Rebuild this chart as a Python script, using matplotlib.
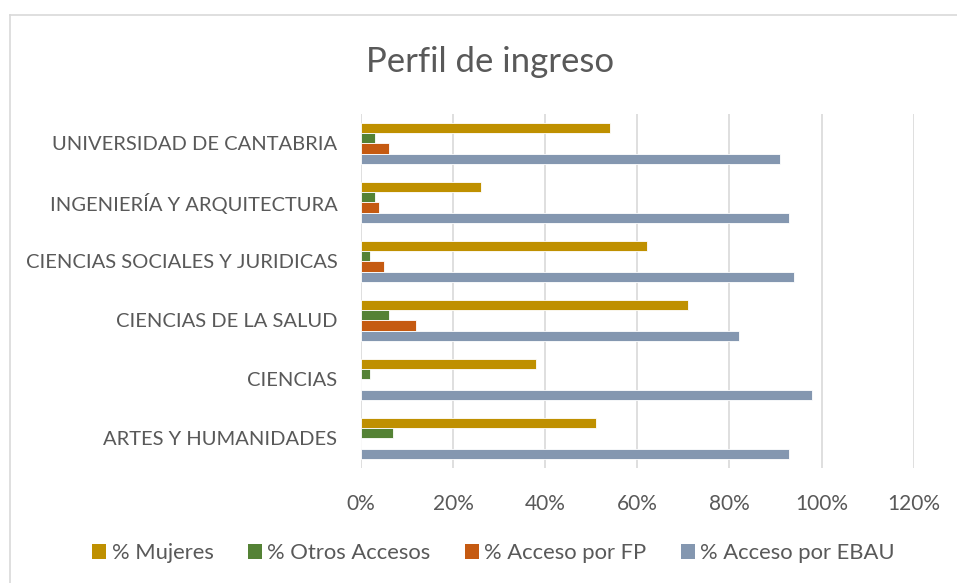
import numpy as np
import matplotlib
matplotlib.use('Agg')
import matplotlib.pyplot as plt
from matplotlib.lines import Line2D
from matplotlib.patches import Patch

# categories, top to bottom as in the chart
categories = ['UNIVERSIDAD DE CANTABRIA', 'INGENIERÍA Y ARQUITECTURA',
              'CIENCIAS SOCIALES Y JURIDICAS', 'CIENCIAS DE LA SALUD',
              'CIENCIAS', 'ARTES Y HUMANIDADES']

# values (fractions)
mujeres = [0.54, 0.26, 0.62, 0.71, 0.38, 0.51]
otros_accesos = [0.03, 0.03, 0.02, 0.06, 0.02, 0.07]
acceso_fp = [0.06, 0.04, 0.05, 0.12, 0.00, 0.00]
acceso_ebau = [0.91, 0.93, 0.94, 0.82, 0.98, 0.93]

series_names = ['% Mujeres', '% Otros Accesos', '% Acceso por FP', '% Acceso por EBAU']
colors = ['#BF9000', '#548235', '#C55A11', '#8497B0']
x_ticks = [0, 0.2, 0.4, 0.6, 0.8, 1.0, 1.2]
x_ticklabels = ['0%', '20%', '40%', '60%', '80%', '100%', '120%']

plt.rcParams['font.family'] = ['Lato', 'DejaVu Sans']
text_col = '#595959'
grid_col = '#D9D9D9'

fig = plt.figure(figsize=(9.57, 5.83), dpi=100)
ax = fig.add_axes([0.3772, 0.1973, 0.9547 - 0.3772, 0.8045 - 0.1973])

n = len(categories)
ypos = np.arange(n)[::-1]  # first category at top
h = 0.173
all_series = [mujeres, otros_accesos, acceso_fp, acceso_ebau]
offsets = [1.5 * h, 0.5 * h, -0.5 * h, -1.5 * h]
for vals, off, col in zip(all_series, offsets, colors):
    ax.barh(ypos + off, vals, height=h, color=col, edgecolor='white',
            linewidth=0.6, zorder=3)

ax.set_xlim(0, 1.2)
ax.set_ylim(-0.5, n - 0.5)
ax.set_xticks(x_ticks)
ax.set_xticklabels(x_ticklabels)
ax.set_yticks(ypos)
ax.set_yticklabels(categories)
ax.tick_params(axis='x', length=0, labelsize=15, colors=text_col, pad=19)
ax.tick_params(axis='y', length=0, labelsize=14.5, colors=text_col, pad=17)
ax.grid(axis='x', color=grid_col, linewidth=1.2, zorder=0)
for s in ax.spines.values():
    s.set_visible(False)

fig.text(0.512, 0.8935, 'Perfil de ingreso', ha='center', va='center',
         fontsize=25, color=text_col)

handles = [Patch(facecolor=c, edgecolor='none') for c in colors]
fig.legend(handles, series_names, loc='center', bbox_to_anchor=(0.5157, 0.0515),
           ncol=4, frameon=False, fontsize=15.8, handlelength=0.65, handleheight=0.65,
           handletextpad=0.25, columnspacing=1.55, labelcolor=text_col)

# chart area border (only left and top edges fall inside the picture)
fig.add_artist(Line2D([10 / 957, 10 / 957], [0, 1 - 15 / 583], color=grid_col,
                      linewidth=1.2, transform=fig.transFigure))
fig.add_artist(Line2D([10 / 957, 1], [1 - 15 / 583, 1 - 15 / 583], color=grid_col,
                      linewidth=1.2, transform=fig.transFigure))

fig.savefig('out.png', dpi=100, facecolor='white')
